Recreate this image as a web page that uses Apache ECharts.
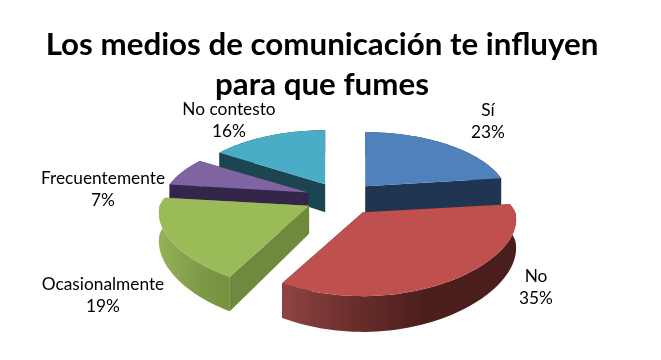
<!DOCTYPE html>
<html>
<head>
<meta charset="utf-8">
<style>
  html, body { margin: 0; padding: 0; background: #fff; }
  #chart { width: 661px; height: 360px; }
</style>
<script src="https://cdn.jsdelivr.net/npm/echarts@6/dist/echarts.min.js"></script>
</head>
<body>
<div id="chart"></div>
<script>
// chart data
var titleText = 'Los medios de comunicación te influyen\npara que fumes';
var categories = ['Sí', 'No', 'Ocasionalmente', 'Frecuentemente', 'No contesto'];
var percentValues = [23, 35, 19, 7, 16];

// look of the slices
var topColors = ['#4f81bd', '#c0504d', '#9bbb59', '#8064a2', '#4bacc6'];
var wallColors = ['#1f3552', '#4a1e1c', '#6f8a3f', '#33264a', '#1c4552'];
var rimStops = [
  [[0, '#1f3552'], [1, '#1f3552']],
  [[0, '#8f4442'], [0.3, '#6b2e2c'], [0.6, '#4c1f1d'], [1, '#4a1e1c']],
  [[0, '#94b255'], [0.6, '#7f994a'], [1, '#75903f']],
  [[0, '#33264a'], [1, '#33264a']],
  [[0, '#1c4552'], [1, '#1c4552']]
];
// painter order, back slices first
var paintOrder = [2, 5, 4, 3, 1];
var labelAnchors = [[488, 121], [536, 287], [103, 295], [103, 189], [229, 120]];

// fake 3d projection of the pie plane
var centerX = 342, centerY = 198;
var radiusX = 146, radiusY = 65.7;
var perspective = 0.217;
var perspectiveFront = 0.105;
var sliceDepthScale = 0.2;
var thickness = 28;
var explode = 0.25;

var total = percentValues.reduce(function (a, b) { return a + b; }, 0);

function project(px, py) {
  var w = 1 + perspective * py;
  var wx = py > 0 ? w : 1 + perspectiveFront * py;
  return [radiusX * px / wx, -radiusY * py / w, w];
}

function buildSlice(idx, val) {
  var start = 0;
  for (var i = 0; i < idx; i++) start += percentValues[i];
  var a0 = start / total * Math.PI * 2;
  var a1 = (start + val) / total * Math.PI * 2;
  var mid = (a0 + a1) / 2;
  var off = project(explode * Math.sin(mid), explode * Math.cos(mid));
  var ax = centerX + off[0], ay = centerY + off[1];
  // slices pushed to the back look a bit narrower
  var xScale = 1 / (1 + sliceDepthScale * explode * Math.cos(mid));

  var top = [], low = [];
  var steps = 60;
  for (var s = 0; s <= steps; s++) {
    var a = a0 + (a1 - a0) * s / steps;
    var p = project(Math.sin(a), Math.cos(a));
    top.push([ax + p[0] * xScale, ay + p[1]]);
    low.push([ax + p[0] * xScale, ay + p[1] + thickness / p[2]]);
  }
  var apexLow = [ax, ay + thickness];
  var z = paintOrder[idx] * 10;

  return {
    type: 'group',
    children: [
      {
        type: 'polygon',
        z2: z,
        shape: { points: [[ax, ay], top[0], low[0], apexLow] },
        style: { fill: wallColors[idx] }
      },
      {
        type: 'polygon',
        z2: z,
        shape: { points: [[ax, ay], top[steps], low[steps], apexLow] },
        style: { fill: wallColors[idx] }
      },
      {
        type: 'polygon',
        z2: z + 1,
        shape: { points: top.concat(low.slice().reverse()) },
        style: { fill: new echarts.graphic.LinearGradient(0, 0, 1, 0, rimStops[idx].map(function (c) {
          return { offset: c[0], color: c[1] };
        })) }
      },
      {
        type: 'polygon',
        z2: z + 2,
        shape: { points: [[ax, ay]].concat(top) },
        style: { fill: topColors[idx] }
      },
      {
        type: 'text',
        z2: 100,
        style: {
          x: labelAnchors[idx][0],
          y: labelAnchors[idx][1],
          text: categories[idx] + '\n' + val + '%',
          align: 'center',
          verticalAlign: 'middle',
          fill: '#000',
          font: '17.3px Lato',
          lineHeight: 22
        }
      }
    ]
  };
}

var chart = echarts.init(document.getElementById('chart'));
chart.setOption({
  animation: false,
  backgroundColor: '#fff',
  title: {
    text: titleText,
    left: 317,
    top: 20,
    textAlign: 'center',
    textStyle: {
      fontFamily: 'Lato',
      fontWeight: 'bold',
      fontSize: 31.3,
      lineHeight: 40,
      color: '#000'
    }
  },
  series: [{
    type: 'custom',
    coordinateSystem: 'none',
    silent: true,
    data: percentValues,
    renderItem: function (params, api) {
      return buildSlice(params.dataIndex, api.value(0));
    }
  }]
});
</script>
</body>
</html>
